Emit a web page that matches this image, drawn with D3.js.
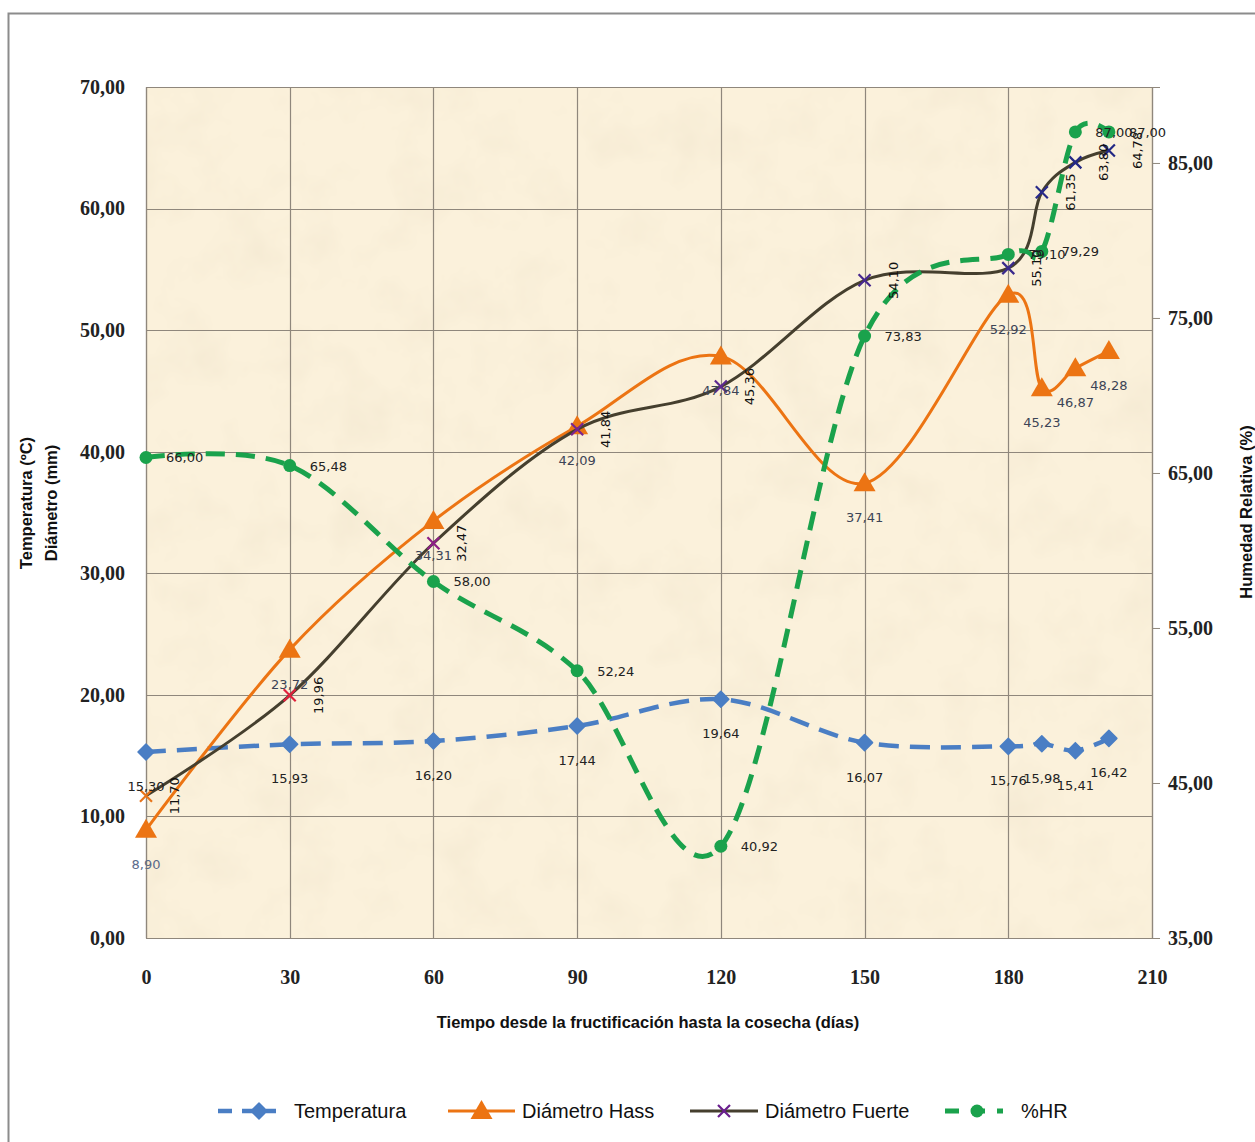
<!DOCTYPE html>
<html>
<head>
<meta charset="utf-8">
<script src="https://cdn.jsdelivr.net/npm/d3@7"></script>
<style>
  html, body { margin: 0; padding: 0; background: #fff; }
  svg { display: block; }
</style>
</head>
<body>
<div id="chart"></div>
<script>
// Days since fruit set at which each measurement was taken
const days = [0, 30, 60, 90, 120, 150, 180, 187, 194, 201];
// Mean temperature (ºC)
const temperatura = [15.30, 15.93, 16.20, 17.44, 19.64, 16.07, 15.76, 15.98, 15.41, 16.42];
// Fruit diameter, Hass (mm)
const diametroHass = [8.90, 23.72, 34.31, 42.09, 47.84, 37.41, 52.92, 45.23, 46.87, 48.28];
// Fruit diameter, Fuerte (mm)
const diametroFuerte = [11.70, 19.96, 32.47, 41.84, 45.36, 54.10, 55.10, 61.35, 63.80, 64.78];
// Relative humidity (%)
const humedad = [66.00, 65.48, 58.00, 52.24, 40.92, 73.83, 79.10, 79.29, 87.00, 87.00];

// Axis ticks
const xTicks = [0, 30, 60, 90, 120, 150, 180, 210];
const yLeftTicks = [0, 10, 20, 30, 40, 50, 60, 70];
const yRightTicks = [35, 45, 55, 65, 75, 85];

// Cross marker colours along the Fuerte series
const fuerteMarkerColors = ["#e8751a", "#e0203c", "#8e1f86", "#7a2590", "#5e2a90", "#47288e", "#3a2a8c", "#28298a", "#232886", "#222784"];

const legendItems = ["Temperatura", "Diámetro Hass", "Diámetro Fuerte", "%HR"];

const W = 1255, H = 1142;
const plot = { left: 146, right: 1152, top: 87, bottom: 938 };

const svg = d3.select("#chart").append("svg")
  .attr("width", W).attr("height", H);

const defs = svg.append("defs");
const parch = defs.append("filter").attr("id", "parch")
  .attr("x", 0).attr("y", 0).attr("width", "100%").attr("height", "100%");
parch.append("feTurbulence").attr("type", "fractalNoise")
  .attr("baseFrequency", "0.018").attr("numOctaves", 4).attr("seed", 7);
parch.append("feColorMatrix").attr("type", "matrix")
  .attr("values", "0 0 0 0 0.88  0 0 0 0 0.79  0 0 0 0 0.62  0 0 0 1.1 -0.5");

// outer frame
svg.append("rect").attr("x", 8.5).attr("y", 13.5).attr("width", 1260).attr("height", 1140)
  .attr("fill", "#fff").attr("stroke", "#8c8c8c").attr("stroke-width", 2);

const x = d3.scaleLinear().domain([0, 210]).range([plot.left, plot.right]);
const yL = d3.scaleLinear().domain([0, 70]).range([plot.bottom, plot.top]);
const yR = d3.scaleLinear().domain([35, 89.9]).range([plot.bottom, plot.top]);

// plot background
svg.append("rect").attr("x", plot.left).attr("y", plot.top)
  .attr("width", plot.right - plot.left).attr("height", plot.bottom - plot.top)
  .attr("fill", "#fbf1db");
svg.append("rect").attr("x", plot.left).attr("y", plot.top)
  .attr("width", plot.right - plot.left).attr("height", plot.bottom - plot.top)
  .attr("filter", "url(#parch)");

// gridlines
const grid = svg.append("g").attr("stroke", "#8f877c").attr("stroke-width", 1.2);
yLeftTicks.forEach(t => grid.append("line")
  .attr("x1", plot.left).attr("x2", plot.right)
  .attr("y1", Math.round(yL(t)) + 0.5).attr("y2", Math.round(yL(t)) + 0.5));
xTicks.forEach(t => grid.append("line")
  .attr("x1", Math.round(x(t)) + 0.5).attr("x2", Math.round(x(t)) + 0.5)
  .attr("y1", plot.top).attr("y2", plot.bottom));

// axes
const tickFont = "'Liberation Serif', 'DejaVu Serif', serif";
const fmt = v => d3.format(".2f")(v).replace(".", ",");

const axL = svg.append("g").attr("transform", `translate(${plot.left},0)`)
  .call(d3.axisLeft(yL).tickValues(yLeftTicks).tickFormat(fmt).tickSize(0).tickPadding(21));
const axR = svg.append("g").attr("transform", `translate(${plot.right},0)`)
  .call(d3.axisRight(yR).tickValues(yRightTicks).tickFormat(fmt).tickSize(8).tickPadding(8));
const axB = svg.append("g").attr("transform", `translate(0,${plot.bottom})`)
  .call(d3.axisBottom(x).tickValues(xTicks).tickFormat(d3.format("d")).tickSize(0).tickPadding(32));
[axL, axR, axB].forEach(a => {
  a.select(".domain").attr("stroke", "#8f877c").attr("stroke-width", 1.2);
  a.selectAll(".tick line").attr("stroke", "#8f877c");
  a.selectAll("text").attr("font-family", tickFont).attr("font-weight", "bold")
    .attr("font-size", 20).attr("fill", "#222");
});

// axis titles
const titleFont = "'Liberation Sans', Arial, sans-serif";
svg.append("text").attr("x", 648).attr("y", 1028).attr("text-anchor", "middle")
  .attr("font-family", titleFont).attr("font-weight", "bold").attr("font-size", 16.5)
  .attr("fill", "#111").text("Tiempo desde la fructificación hasta la cosecha (días)");
[["Temperatura (ºC)", 32], ["Diámetro (mm)", 57]].forEach(([t, px]) =>
  svg.append("text").attr("transform", `translate(${px},503) rotate(-90)`)
    .attr("text-anchor", "middle").attr("font-family", titleFont).attr("font-weight", "bold")
    .attr("font-size", 16.5).attr("fill", "#111").text(t));
svg.append("text").attr("transform", "translate(1252,512) rotate(-90)")
  .attr("text-anchor", "middle").attr("font-family", titleFont).attr("font-weight", "bold")
  .attr("font-size", 16.5).attr("fill", "#111").text("Humedad Relativa (%)");

// colours
const cTemp = "#4a7ec4", cHass = "#ec7413", cFuerte = "#453f2e", cHR = "#1aa24c";

const curve = d3.curveCatmullRom.alpha(0);
const lineL = d3.line().x(d => x(d[0])).y(d => yL(d[1])).curve(curve);
const lineR = d3.line().x(d => x(d[0])).y(d => yR(d[1])).curve(curve);

const tempPts = days.map((d, i) => [d, temperatura[i]]);
const hassPts = days.map((d, i) => [d, diametroHass[i]]);
const fuertePts = days.map((d, i) => [d, diametroFuerte[i]]);
const hrPts = days.map((d, i) => [d, humedad[i]]);

// symbol helpers
const diamond = (g, cx, cy) => g.append("path")
  .attr("d", `M${cx},${cy - 8}L${cx + 8},${cy}L${cx},${cy + 8}L${cx - 8},${cy}Z`)
  .attr("fill", cTemp).attr("stroke", cTemp).attr("stroke-width", 1.5).attr("stroke-linejoin", "round");
const triangle = (g, cx, cy) => g.append("path")
  .attr("d", `M${cx},${cy - 11}L${cx + 11},${cy + 8}L${cx - 11},${cy + 8}Z`)
  .attr("fill", cHass);
const cross = (g, cx, cy, col) => g.append("path")
  .attr("d", `M${cx - 6},${cy - 6}L${cx + 6},${cy + 6}M${cx - 6},${cy + 6}L${cx + 6},${cy - 6}`)
  .attr("stroke", col).attr("stroke-width", 2.2).attr("fill", "none");
const dot = (g, cx, cy) => g.append("circle").attr("cx", cx).attr("cy", cy).attr("r", 6.5)
  .attr("fill", cHR);

// Temperatura
const gT = svg.append("g");
gT.append("path").attr("d", lineL(tempPts)).attr("fill", "none").attr("stroke", cTemp)
  .attr("stroke-width", 4.5).attr("stroke-dasharray", "20,11");
tempPts.forEach(p => diamond(gT, x(p[0]), yL(p[1])));

// Diámetro Hass
const gH = svg.append("g");
gH.append("path").attr("d", lineL(hassPts)).attr("fill", "none").attr("stroke", cHass)
  .attr("stroke-width", 3);
hassPts.forEach(p => triangle(gH, x(p[0]), yL(p[1])));

// Diámetro Fuerte
const gF = svg.append("g");
gF.append("path").attr("d", lineL(fuertePts)).attr("fill", "none").attr("stroke", cFuerte)
  .attr("stroke-width", 3);
fuertePts.forEach((p, i) => cross(gF, x(p[0]), yL(p[1]), fuerteMarkerColors[i]));

// %HR (secondary axis)
const gR = svg.append("g");
gR.append("path").attr("d", lineR(hrPts)).attr("fill", "none").attr("stroke", cHR)
  .attr("stroke-width", 5).attr("stroke-dasharray", "19,11");
hrPts.forEach(p => dot(gR, x(p[0]), yR(p[1])));

// data labels
const lblFont = "'DejaVu Sans', Verdana, sans-serif";
const labels = svg.append("g").attr("font-family", lblFont).attr("font-size", 13);
tempPts.forEach(p => labels.append("text").attr("x", x(p[0])).attr("y", yL(p[1]) + 39)
  .attr("text-anchor", "middle").attr("fill", "#222").text(fmt(p[1])));
hassPts.forEach((p, i) => labels.append("text").attr("x", x(p[0])).attr("y", yL(p[1]) + 39)
  .attr("text-anchor", "middle").attr("fill", i === 0 ? "#5a6a8a" : "#3c4456").text(fmt(p[1])));
fuertePts.forEach(p => labels.append("text")
  .attr("transform", `translate(${x(p[0]) + 33},${yL(p[1])}) rotate(-90)`)
  .attr("text-anchor", "middle").attr("fill", "#111").text(fmt(p[1])));
hrPts.forEach(p => labels.append("text").attr("x", x(p[0]) + 20).attr("y", yR(p[1]) + 5)
  .attr("fill", "#222").text(fmt(p[1])));

// legend
const legY = 1111;
const leg = svg.append("g");
const legFont = "'Liberation Sans Narrow', 'Liberation Sans', Arial, sans-serif";
const legendSpec = [
  { x0: 218, x1: 276, tx: 294 },
  { x0: 448, x1: 515, tx: 522 },
  { x0: 690, x1: 758, tx: 765 },
  { x0: 945, x1: 1003, tx: 1021 }
];
legendItems.forEach((name, i) => {
  const s = legendSpec[i];
  const mid = (s.x0 + s.x1) / 2;
  const ln = leg.append("line").attr("x1", s.x0).attr("x2", s.x1).attr("y1", legY).attr("y2", legY);
  if (i === 0) {
    ln.attr("stroke", cTemp).attr("stroke-width", 4.5).attr("stroke-dasharray", "14,10");
    diamond(leg, mid + 12, legY);
  } else if (i === 1) {
    ln.attr("stroke", cHass).attr("stroke-width", 3);
    triangle(leg, mid, legY);
  } else if (i === 2) {
    ln.attr("stroke", cFuerte).attr("stroke-width", 3);
    cross(leg, mid, legY, "#6a1f8e");
  } else {
    ln.attr("stroke", cHR).attr("stroke-width", 5).attr("stroke-dasharray", "14,12");
    dot(leg, mid + 3, legY);
  }
  leg.append("text").attr("x", s.tx).attr("y", legY + 7).attr("font-family", legFont)
    .attr("font-size", 20).attr("fill", "#111").text(name);
});
</script>
</body>
</html>
